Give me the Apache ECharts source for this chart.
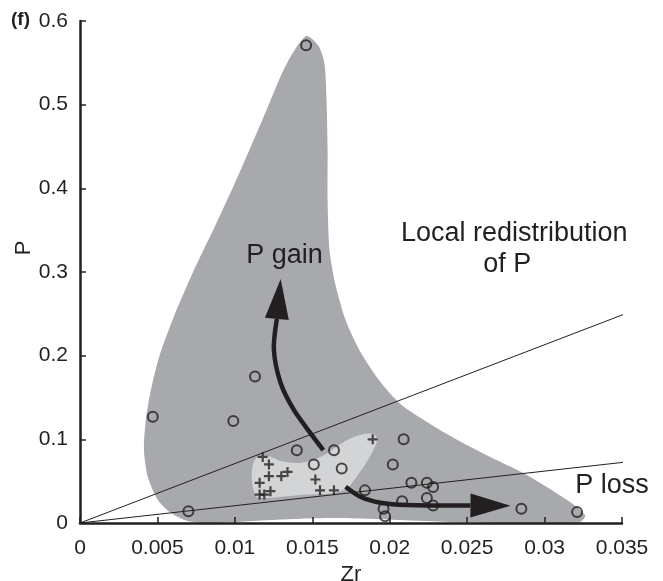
<!DOCTYPE html>
<html><head><meta charset="utf-8">
<script src="https://cdn.jsdelivr.net/npm/echarts@6/dist/echarts.min.js"></script>
<style>html,body{margin:0;padding:0;background:#fff}#c{width:663px;height:581px}</style>
</head><body><div id="c"></div>
<script>
const FONT = '"Liberation Sans", Arial, Helvetica, sans-serif';
const INK = '#231f20';

// tick values
const xMin = 0, xMax = 0.035, xStep = 0.005;
const yMin = 0, yMax = 0.6, yStep = 0.1;

// open circles [Zr, P]
const circleData = [
  [0.0146, 0.571], [0.0047, 0.127], [0.0099, 0.122], [0.0113, 0.175],
  [0.0070, 0.014], [0.0140, 0.087], [0.0164, 0.087], [0.0151, 0.070],
  [0.0169, 0.065], [0.0209, 0.100], [0.0202, 0.070], [0.0184, 0.039],
  [0.0214, 0.048], [0.0224, 0.048], [0.0228, 0.043], [0.0224, 0.030],
  [0.0228, 0.021], [0.0208, 0.026], [0.0196, 0.017], [0.0197, 0.008],
  [0.0285, 0.017], [0.0321, 0.013]
];
// plus markers [Zr, P]
const plusData = [
  [0.0189, 0.100], [0.0118, 0.079], [0.0122, 0.070], [0.0122, 0.056],
  [0.0130, 0.056], [0.0134, 0.061], [0.0116, 0.048], [0.0116, 0.034],
  [0.0119, 0.034], [0.0123, 0.038], [0.0152, 0.052], [0.0155, 0.039],
  [0.0164, 0.039]
];
// reference ratio lines through origin
const ratioLineHigh = [[0, 0], [0.0352, 0.250]];
const ratioLineLow = [[0, 0], [0.0358, 0.074]];

// outer (dark) field outline [Zr, P]
const darkOutline = [
  [0.01463,0.5820],[0.01541,0.5701],[0.01579,0.5486],[0.01592,0.5056],[0.01599,0.4458],
  [0.01599,0.3860],[0.01611,0.3263],[0.01650,0.2844],[0.01715,0.2426],[0.01811,0.2044],
  [0.01940,0.1685],[0.02069,0.1422],[0.02230,0.1219],[0.02437,0.0992],[0.02649,0.0789],
  [0.02862,0.0598],[0.03075,0.0359],[0.03210,0.0191],[0.03262,0.0084],[0.03229,0.0012],
  [0.03100,0.0000],[0.02714,0.0000],[0.02391,0.0012],[0.02069,0.0036],[0.01618,0.0060],
  [0.01231,0.0036],[0.00844,0.0000],[0.00696,0.0024],[0.00587,0.0120],[0.00503,0.0275],
  [0.00438,0.0550],[0.00413,0.0872],[0.00425,0.1231],[0.00458,0.1590],[0.00515,0.2008],
  [0.00610,0.2486],[0.00730,0.3000],[0.00860,0.3502],[0.00983,0.3992],[0.01102,0.4494],
  [0.01218,0.4996],[0.01308,0.5390],[0.01386,0.5653]
];
// inner (light) field outline [Zr, P]
const lightOutline = [
  [0.01154,0.0801],[0.01218,0.0801],[0.01296,0.0741],[0.01405,0.0717],[0.01508,0.0753],
  [0.01599,0.0837],[0.01682,0.0944],[0.01766,0.1028],[0.01837,0.1064],[0.01895,0.1064],
  [0.01921,0.1004],[0.01895,0.0872],[0.01844,0.0705],[0.01785,0.0550],[0.01727,0.0418],
  [0.01644,0.0359],[0.01425,0.0335],[0.01212,0.0299],[0.01141,0.0311],[0.01115,0.0430],
  [0.01109,0.0598],[0.01122,0.0729]
];
// arrows
const gainArrowPath = [[0.01571,0.0872],[0.01489,0.1072],[0.01381,0.1351],[0.01296,0.1670],[0.01252,0.2068]];
const gainArrowTip = [0.01296, 0.2916];
const lossArrowPath = [[0.01715,0.0434],[0.01811,0.0314],[0.01940,0.0243],[0.02112,0.0215]];
const lossArrowTip = [0.02780, 0.0205];

// annotations
const labelTexts = ['P gain', 'Local redistribution', 'of P', 'P loss'];
const labelX = [0.01321, 0.02804, 0.02759, 0.03436];
const labelY = [0.3195, 0.3456, 0.3084, 0.0445];

function polyRender(outline, fill) {
  return function (params, api) {
    const pts = outline.map(p => api.coord(p));
    return { type: 'polygon', shape: { points: pts, smooth: 0.25 }, style: { fill: fill } };
  };
}
function arrowRender(path, tip) {
  return function (params, api) {
    const pts = path.map(p => api.coord(p));
    const t = api.coord(tip);
    const last = pts[pts.length - 1];
    let dx = t[0] - last[0], dy = t[1] - last[1];
    const L = Math.hypot(dx, dy); dx /= L; dy /= L;
    const headLen = 40, headHalf = 12;
    const base = [t[0] - dx * headLen, t[1] - dy * headLen];
    const left = [base[0] - dy * headHalf, base[1] + dx * headHalf];
    const right = [base[0] + dy * headHalf, base[1] - dx * headHalf];
    return { type: 'group', children: [
      { type: 'polyline', shape: { points: pts.concat([base]), smooth: 0.3 },
        style: { stroke: INK, lineWidth: 4.5, fill: null } },
      { type: 'polygon', shape: { points: [t, left, right] }, style: { fill: INK } }
    ] };
  };
}

const chart = echarts.init(document.getElementById('c'), null, { renderer: 'canvas' });
const axisCommon = {
  type: 'value', z: 10,
  axisLine: { show: true, lineStyle: { color: INK, width: 2.5 } },
  axisTick: { show: true, inside: true, length: 6, lineStyle: { color: INK, width: 1.5 } },
  splitLine: { show: false },
  axisLabel: { color: INK, fontSize: 21, fontFamily: FONT }
};
chart.setOption({
  animation: false,
  backgroundColor: '#fff',
  grid: { left: 80, right: 41, top: 21, bottom: 58, containLabel: false, outerBoundsMode: 'none' },
  xAxis: Object.assign({}, axisCommon, {
    min: xMin, max: xMax, interval: xStep,
    name: 'Zr', nameLocation: 'middle', nameGap: 34,
    nameTextStyle: { color: INK, fontSize: 22, fontFamily: FONT },
    axisLabel: Object.assign({}, axisCommon.axisLabel, { margin: 15,
      formatter: v => v === 0 ? '0' : String(+v.toFixed(3)) })
  }),
  yAxis: Object.assign({}, axisCommon, {
    min: yMin, max: yMax, interval: yStep,
    axisLabel: Object.assign({}, axisCommon.axisLabel, { margin: 12,
      formatter: v => v === 0 ? '0' : v.toFixed(1) })
  }),
  graphic: [
    { type: 'text', left: 11, top: 10, style: { text: '(f)', fontSize: 19, fontWeight: 'bold', fontFamily: FONT, fill: INK } },
    { type: 'text', x: 24, y: 248, rotation: Math.PI / 2,
      style: { text: 'P', fontSize: 22, fontFamily: FONT, fill: INK, align: 'center', verticalAlign: 'middle' } }
  ],
  series: [
    { type: 'custom', z: 1, silent: true, data: [[0, 0]], renderItem: polyRender(darkOutline, '#a7a9ac') },
    { type: 'custom', z: 2, silent: true, data: [[0, 0]], renderItem: polyRender(lightOutline, '#d3d4d5') },
    { type: 'line', z: 3, silent: true, clip: false, symbol: 'none', data: ratioLineHigh,
      lineStyle: { color: INK, width: 1 } },
    { type: 'line', z: 3, silent: true, clip: false, symbol: 'none', data: ratioLineLow,
      lineStyle: { color: INK, width: 1 } },
    { type: 'custom', z: 4, silent: true, data: [[0, 0]], renderItem: arrowRender(gainArrowPath, gainArrowTip) },
    { type: 'custom', z: 4, silent: true, data: [[0, 0]], renderItem: arrowRender(lossArrowPath, lossArrowTip) },
    { type: 'scatter', z: 5, silent: true, data: circleData, symbol: 'circle', symbolSize: 10,
      itemStyle: { color: 'rgba(0,0,0,0)', borderColor: INK, borderWidth: 2 } },
    { type: 'scatter', z: 5, silent: true, data: plusData,
      symbol: 'path://M3.9,0H6.1V3.9H10V6.1H6.1V10H3.9V6.1H0V3.9H3.9Z', symbolSize: 10,
      itemStyle: { color: INK } },
    { type: 'custom', z: 6, silent: true, clip: false,
      data: labelTexts.map((t, i) => [labelX[i], labelY[i], i]),
      renderItem: function (params, api) {
        const p = api.coord([api.value(0), api.value(1)]);
        return { type: 'text', x: p[0], y: p[1],
          style: { text: labelTexts[api.value(2)], fontSize: 27, fontFamily: FONT, fill: INK,
                   align: 'center', verticalAlign: 'middle' } };
      } }
  ]
});
</script>
</body></html>
